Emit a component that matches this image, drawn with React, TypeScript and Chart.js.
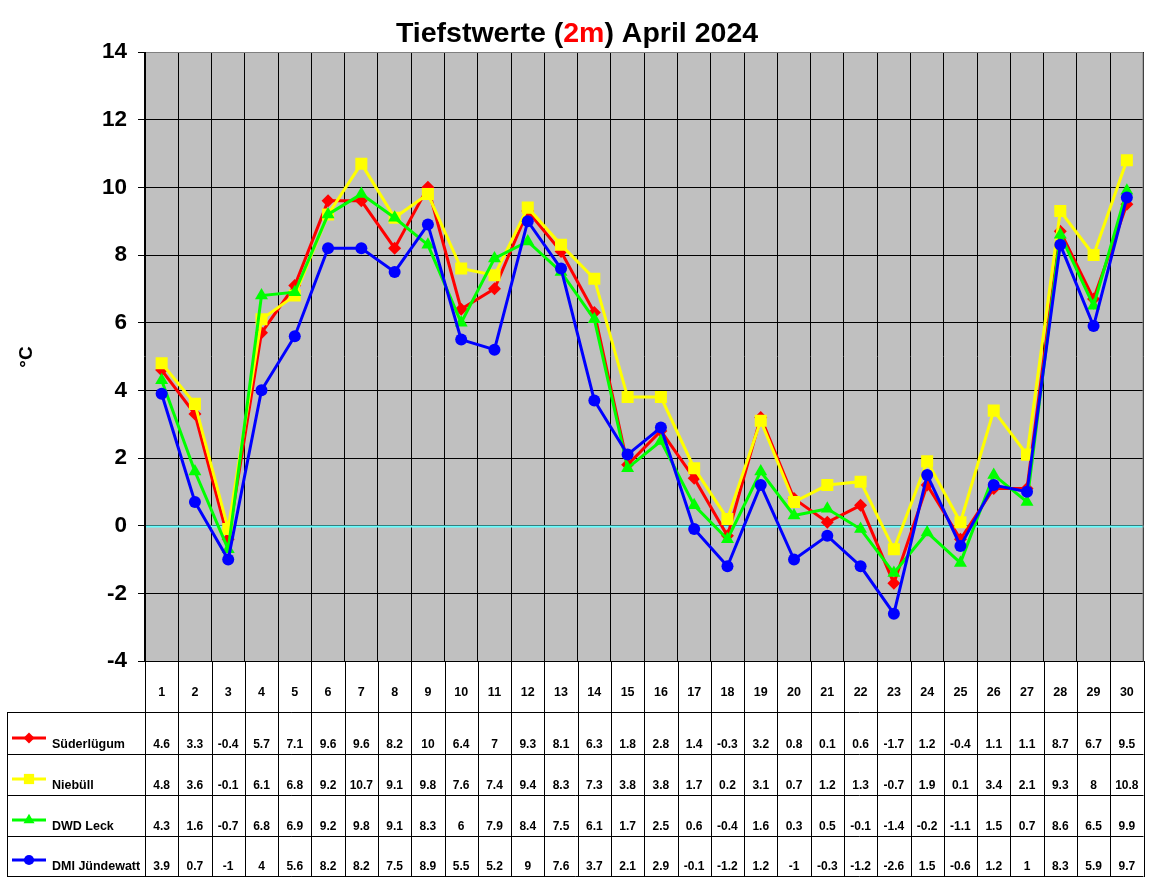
import React, { useEffect, useRef } from "react";
import { Chart, registerables } from "chart.js";

Chart.register(...registerables);

const days = Array.from({ length: 30 }, (_, i) => String(i + 1));
const seriesNames = ["Süderlügum", "Niebüll", "DWD Leck", "DMI Jündewatt"];
const suederluegum = [4.6, 3.3, -0.4, 5.7, 7.1, 9.6, 9.6, 8.2, 10, 6.4, 7, 9.3, 8.1, 6.3, 1.8, 2.8, 1.4, -0.3, 3.2, 0.8, 0.1, 0.6, -1.7, 1.2, -0.4, 1.1, 1.1, 8.7, 6.7, 9.5];
const niebuell = [4.8, 3.6, -0.1, 6.1, 6.8, 9.2, 10.7, 9.1, 9.8, 7.6, 7.4, 9.4, 8.3, 7.3, 3.8, 3.8, 1.7, 0.2, 3.1, 0.7, 1.2, 1.3, -0.7, 1.9, 0.1, 3.4, 2.1, 9.3, 8, 10.8];
const dwdLeck = [4.3, 1.6, -0.7, 6.8, 6.9, 9.2, 9.8, 9.1, 8.3, 6, 7.9, 8.4, 7.5, 6.1, 1.7, 2.5, 0.6, -0.4, 1.6, 0.3, 0.5, -0.1, -1.4, -0.2, -1.1, 1.5, 0.7, 8.6, 6.5, 9.9];
const dmiJuendewatt = [3.9, 0.7, -1, 4, 5.6, 8.2, 8.2, 7.5, 8.9, 5.5, 5.2, 9, 7.6, 3.7, 2.1, 2.9, -0.1, -1.2, 1.2, -1, -0.3, -1.2, -2.6, 1.5, -0.6, 1.2, 1, 8.3, 5.9, 9.7];
const yTicks = { min: -4, max: 14, step: 2 };

const colors = ["#FF0000", "#FFFF00", "#00FF00", "#0000FF"];
const shapes = ["rectRot", "rect", "triangle", "circle"];
const radii = [6.5, 8.5, 7.5, 6];
const allSeries = [suederluegum, niebuell, dwdLeck, dmiJuendewatt];

const FONT = "'Liberation Sans', Arial, sans-serif";

function drawMarker(ctx: CanvasRenderingContext2D, shape: string, x: number, y: number, r: number, color: string) {
  ctx.save();
  ctx.fillStyle = color;
  ctx.beginPath();
  if (shape === "rectRot") {
    ctx.moveTo(x, y - r); ctx.lineTo(x + r, y); ctx.lineTo(x, y + r); ctx.lineTo(x - r, y);
  } else if (shape === "rect") {
    const s = r * Math.SQRT1_2;
    ctx.rect(x - s, y - s, 2 * s, 2 * s);
  } else if (shape === "triangle") {
    ctx.moveTo(x, y - r);
    ctx.lineTo(x + r * Math.sin(Math.PI / 3), y + r / 2);
    ctx.lineTo(x - r * Math.sin(Math.PI / 3), y + r / 2);
  } else {
    ctx.arc(x, y, r, 0, Math.PI * 2);
  }
  ctx.closePath();
  ctx.fill();
  ctx.restore();
}

const decorPlugin = {
  id: "decor",
  beforeDraw(chart: any) {
    const { ctx, chartArea: a } = chart;
    ctx.save();
    ctx.fillStyle = "#FFFFFF";
    ctx.fillRect(0, 0, chart.width, chart.height);
    ctx.fillStyle = "#C0C0C0";
    ctx.fillRect(a.left, a.top, a.right - a.left, a.bottom - a.top);
    ctx.restore();
  },
  beforeDatasetsDraw(chart: any) {
    const { ctx, chartArea: a, scales } = chart;
    const y0 = Math.round(scales.y.getPixelForValue(0)) + 0.5;
    ctx.save();
    ctx.strokeStyle = "#66FFFF";
    ctx.lineWidth = 2;
    ctx.beginPath();
    ctx.moveTo(a.left, y0);
    ctx.lineTo(a.right, y0);
    ctx.stroke();
    // border
    ctx.lineWidth = 1;
    ctx.strokeStyle = "#808080";
    ctx.beginPath();
    ctx.moveTo(a.left, a.top + 0.5);
    ctx.lineTo(a.right - 0.5, a.top + 0.5);
    ctx.lineTo(a.right - 0.5, a.bottom);
    ctx.stroke();
    ctx.strokeStyle = "#000000";
    ctx.beginPath();
    ctx.moveTo(a.left + 0.5, a.top);
    ctx.lineTo(a.left + 0.5, a.bottom + 0.5);
    ctx.lineTo(a.right, a.bottom + 0.5);
    ctx.stroke();
    ctx.restore();
  },
  afterDraw(chart: any) {
    const { ctx, chartArea: a, scales } = chart;
    ctx.save();
    // title
    ctx.font = `bold 28.5px ${FONT}`;
    ctx.textBaseline = "alphabetic";
    const parts = [
      { t: "Tiefstwerte (", c: "#000000" },
      { t: "2m", c: "#FF0000" },
      { t: ") April 2024", c: "#000000" },
    ];
    const total = parts.reduce((s, p) => s + ctx.measureText(p.t).width, 0);
    let tx = 577 - total / 2;
    ctx.textAlign = "left";
    for (const p of parts) {
      ctx.fillStyle = p.c;
      ctx.fillText(p.t, tx, 41.5);
      tx += ctx.measureText(p.t).width;
    }
    // y axis title
    ctx.save();
    ctx.translate(32, 357);
    ctx.rotate(-Math.PI / 2);
    ctx.font = `bold 19px ${FONT}`;
    ctx.fillStyle = "#000000";
    ctx.textAlign = "center";
    ctx.textBaseline = "alphabetic";
    ctx.fillText("°C", 0, 0);
    ctx.restore();

    // table
    const colW = (a.right - a.left) / days.length;
    const tableTop = 712;
    const rowLines = [712, 754, 795, 836, 876];
    const tableBottom = 876;
    ctx.strokeStyle = "#000000";
    ctx.lineWidth = 1;
    ctx.beginPath();
    for (let i = 0; i <= days.length; i++) {
      const x = Math.round(a.left + i * colW) + 0.5;
      ctx.moveTo(x, a.bottom);
      ctx.lineTo(x, tableBottom + 1);
    }
    for (const ry of rowLines) {
      ctx.moveTo(7, ry + 0.5);
      ctx.lineTo(a.right, ry + 0.5);
    }
    ctx.moveTo(7.5, tableTop);
    ctx.lineTo(7.5, tableBottom + 1);
    ctx.stroke();

    ctx.fillStyle = "#000000";
    ctx.textAlign = "center";
    ctx.textBaseline = "middle";
    ctx.font = `bold 12.5px ${FONT}`;
    days.forEach((d, i) => {
      const x = scales.x.getPixelForValue(i);
      ctx.fillText(d, x, 693);
    });
    ctx.font = `bold 12px ${FONT}`;
    for (let s = 0; s < allSeries.length; s++) {
      const cy = rowLines[s + 1] - 9;
      allSeries[s].forEach((v, i) => {
        const x = scales.x.getPixelForValue(i);
        ctx.fillStyle = "#000000";
        ctx.fillText(String(v), x, cy);
      });
      // legend key
      const ly = rowLines[s + 1] - 16;
      ctx.strokeStyle = colors[s];
      ctx.lineWidth = 3;
      ctx.beginPath();
      ctx.moveTo(12, ly);
      ctx.lineTo(46, ly);
      ctx.stroke();
      drawMarker(ctx, shapes[s], 29, ly, radii[s] * 0.85, colors[s]);
      ctx.textAlign = "left";
      ctx.fillStyle = "#000000";
      ctx.font = `bold 12.5px ${FONT}`;
      ctx.fillText(seriesNames[s], 52, cy);
      ctx.font = `bold 12px ${FONT}`;
      ctx.textAlign = "center";
    }
    ctx.restore();
  },
};

export default function App() {
  const ref = useRef<HTMLCanvasElement | null>(null);
  useEffect(() => {
    if (!ref.current) return;
    const chart = new Chart(ref.current, {
      type: "line",
      data: {
        labels: days,
        datasets: allSeries.map((data, i) => ({
          label: seriesNames[i],
          data,
          borderColor: colors[i],
          backgroundColor: colors[i],
          borderWidth: 3,
          pointStyle: shapes[i] as any,
          pointRadius: radii[i],
          pointBorderWidth: 0,
          pointBackgroundColor: colors[i],
          tension: 0,
          order: 3 - i,
        })),
      },
      options: {
        animation: false,
        responsive: false,
        devicePixelRatio: 1,
        layout: { padding: { top: 52, right: 6, bottom: 0, left: 0 } },
        plugins: { legend: { display: false }, title: { display: false }, tooltip: { enabled: false } },
        scales: {
          x: {
            type: "category",
            offset: true,
            grid: { color: "#000000", offset: true, drawTicks: false, lineWidth: 1 },
            border: { display: false },
            ticks: { display: false },
            afterFit: (s: any) => { s.height = 221; },
          },
          y: {
            min: yTicks.min,
            max: yTicks.max,
            ticks: {
              stepSize: yTicks.step,
              color: "#000000",
              font: { family: FONT, size: 22.5, weight: "bold" },
              padding: 11,
            },
            grid: { color: "#000000", tickLength: 7, tickColor: "#000000", lineWidth: 1 },
            border: { display: false },
            afterFit: (s: any) => { s.width = 145; },
          },
        },
      },
      plugins: [decorPlugin],
    });
    return () => chart.destroy();
  }, []);
  return (
    <div style={{ position: "fixed", left: 0, top: 0, width: 1152, height: 882, background: "#fff" }}>
      <canvas ref={ref} width={1152} height={882} style={{ display: "block", width: 1152, height: 882 }} />
    </div>
  );
}
